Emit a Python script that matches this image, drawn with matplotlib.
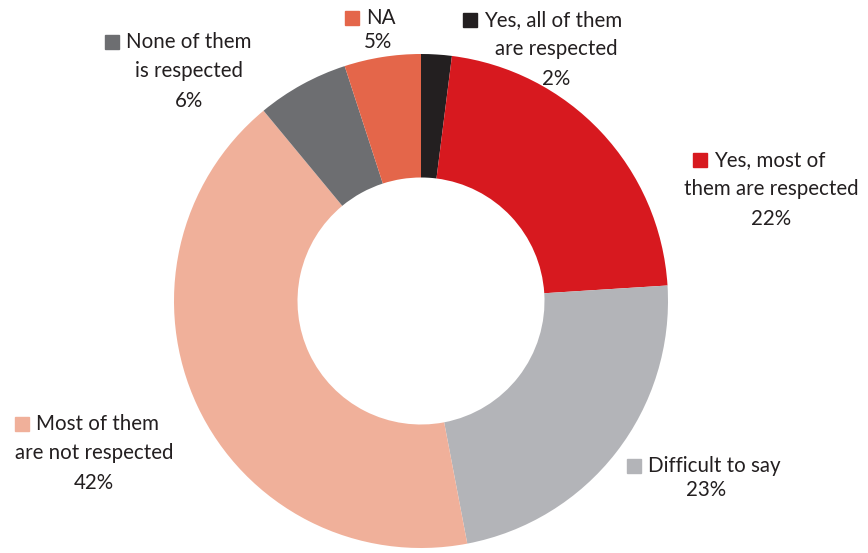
import matplotlib.pyplot as plt

categories = ["Yes, all of them\nare respected", "Yes, most of\nthem are respected",
              "Difficult to say", "Most of them\nare not respected",
              "None of them\nis respected", "NA"]
shares = [2, 22, 23, 42, 6, 5]
pct_labels = ["2%", "22%", "23%", "42%", "6%", "5%"]
colors = ["#231f20", "#d7191f", "#b3b4b8", "#f0b09a", "#6d6e71", "#e4664a"]

# label layout in pixels: (square x, first line y, centre x of the block)
label_pos = [(470, 20, 556), (700, 160, 771), (634, 466, 706),
             (22, 424, 94), (112, 42, 189), (352, 18, 378)]

W, H = 868, 553
plt.rcParams['font.family'] = ['Lato', 'DejaVu Sans']
fig = plt.figure(figsize=(W / 100, H / 100), dpi=100)

# donut centre ~ (421, 301) px, radius ~247 px
cx, cy, r = 421, 301, 247
ax = fig.add_axes([(cx - r) / W, (H - cy - r) / H, 2 * r / W, 2 * r / H])
ax.pie(shares, colors=colors, startangle=90, counterclock=False,
       radius=1, wedgeprops=dict(width=0.5, edgecolor='none'))
ax.set_xlim(-1, 1)
ax.set_ylim(-1, 1)
ax.set_aspect('equal')
ax.axis('off')

txt = dict(fontsize=14.8, color='#231f20', va='center')
step = 29
for name, pct, col, (sx, y0, bx) in zip(categories, pct_labels, colors, label_pos):
    lines = name.split("\n")
    fig.patches.append(plt.Rectangle(((sx - 7) / W, 1 - (y0 + 7) / H), 14 / W, 14 / H,
                                     color=col, transform=fig.transFigure, figure=fig))
    fig.text((sx + 14) / W, 1 - y0 / H, lines[0], ha='left', **txt)
    y = y0
    for ln in lines[1:]:
        y += step
        fig.text(bx / W, 1 - y / H, ln, ha='center', **txt)
    y += step + (1 if len(lines) > 1 else -5)
    fig.text(bx / W, 1 - y / H, pct, ha='center', **txt)

fig.savefig("out.png", dpi=100)
